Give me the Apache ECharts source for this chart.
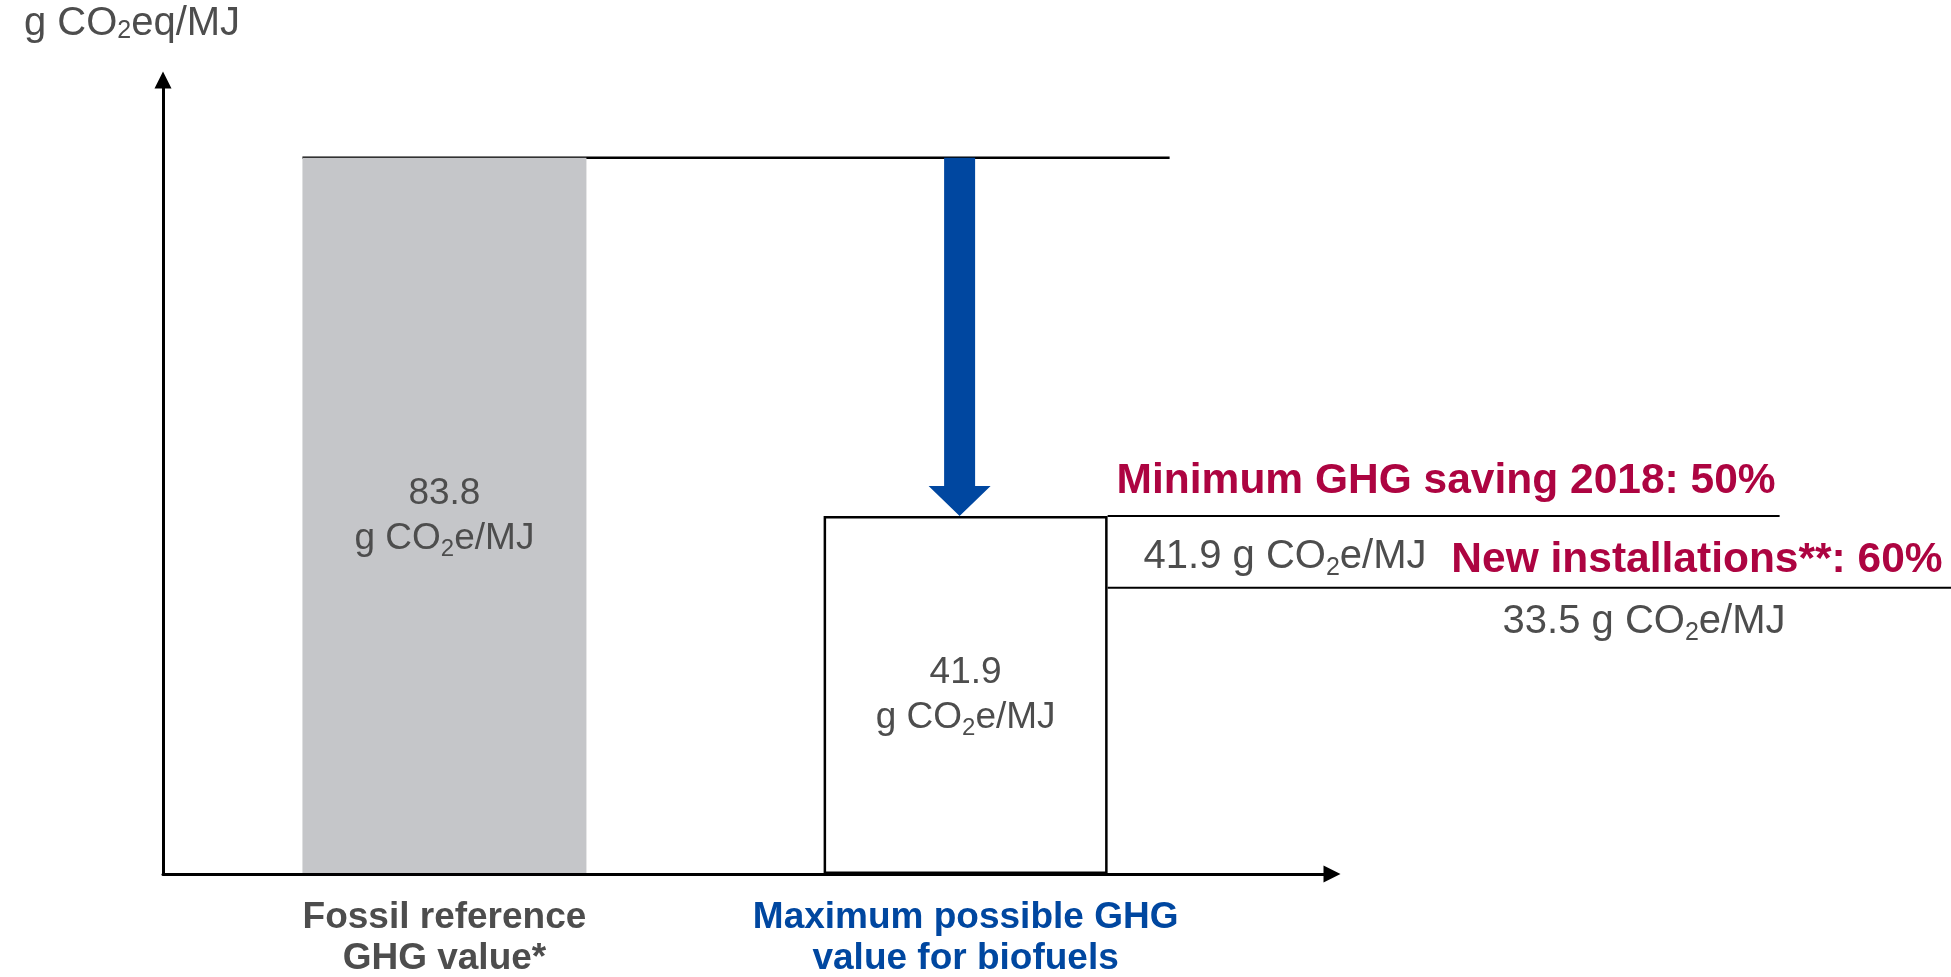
<!DOCTYPE html>
<html>
<head>
<meta charset="utf-8">
<script src="https://cdn.jsdelivr.net/npm/echarts@6/dist/echarts.min.js"></script>
<style>
  html, body { margin: 0; padding: 0; background: #ffffff; }
  #chart { width: 1951px; height: 977px; }
</style>
</head>
<body>
<div id="chart"></div>
<script>
// GHG intensities in g CO2e/MJ
const categories = ['Fossil reference\nGHG value*', 'Maximum possible GHG\nvalue for biofuels'];
const ghgValues = [83.8, 41.9];
// Saving thresholds and the maximum intensity each one allows
const thresholdTitles = ['Minimum GHG saving 2018: 50%', 'New installations**: 60%'];
const thresholdValues = [41.9, 33.5];

const FONT = "'Liberation Sans', Arial, Helvetica, sans-serif";
const TEXT_GREY = '#4d4d4d';
const CRIMSON = '#ad0441';
const BLUE = '#0047a0';
const BAR_WIDTH = 284;

const subRich = (size) => ({
  s: { fontSize: size, lineHeight: size, verticalAlign: 'bottom', color: TEXT_GREY, fill: TEXT_GREY, fontFamily: FONT }
});
const unitText = (v) => (v == null ? '' : v.toFixed(1) + ' ') + 'g CO{s|2}e/MJ';

const chart = echarts.init(document.getElementById('chart'), null, { renderer: 'canvas' });

const axisLineStyle = { color: '#000000', width: 3 };

const option = {
  backgroundColor: '#ffffff',
  animation: false,
  grid: { left: 163, right: 619, top: 80, bottom: 102, containLabel: false },
  xAxis: {
    type: 'value',
    min: -0.54,
    max: 1.703,
    z: 5,
    axisLine: { show: true, symbol: ['none', 'triangle'], symbolSize: [17, 17], lineStyle: axisLineStyle },
    axisTick: { show: false },
    splitLine: { show: false },
    axisLabel: {
      customValues: [0, 1],
      margin: 23,
      formatter: (value) => {
        const i = Math.round(value);
        return categories[i].split('\n').map(line => '{c' + i + '|' + line + '}').join('\n');
      },
      rich: {
        c0: { color: TEXT_GREY, fontWeight: 'bold', fontSize: 37, lineHeight: 41, fontFamily: FONT },
        c1: { color: BLUE, fontWeight: 'bold', fontSize: 37, lineHeight: 41, fontFamily: FONT }
      }
    }
  },
  yAxis: {
    type: 'value',
    min: 0,
    max: 92.9,
    z: 5,
    name: 'g CO{s|2}eq/MJ',
    nameLocation: 'end',
    nameGap: 36,
    nameTextStyle: {
      color: TEXT_GREY, fontSize: 40, fontFamily: FONT,
      padding: [0, 62, 0, 0],
      rich: subRich(25)
    },
    axisLine: { show: true, onZero: false, symbol: ['none', 'triangle'], symbolSize: [17, 17], lineStyle: axisLineStyle },
    axisTick: { show: false },
    axisLabel: { show: false },
    splitLine: { show: false }
  },
  series: [
    {
      name: 'GHG value',
      type: 'bar',
      barWidth: BAR_WIDTH,
      data: ghgValues.map((v, i) => ({
        value: [i, v],
        itemStyle: i === 0
          ? { color: '#c5c6c9' }
          : { color: '#ffffff', borderColor: '#000000', borderWidth: 2.5 }
      })),
      label: {
        show: true,
        position: 'inside',
        color: TEXT_GREY,
        fontSize: 37,
        lineHeight: 45,
        fontFamily: FONT,
        formatter: (p) => p.value[1].toFixed(1) + '\n' + unitText(null),
        rich: subRich(24)
      }
    },
    {
      // fossil reference level and the reduction arrow down to the biofuel maximum
      name: 'Reduction',
      type: 'custom',
      encode: { x: 0, y: [1, 2] },
      data: [[1, ghgValues[0], ghgValues[1]]],
      renderItem: (params, api) => {
        const xi = api.value(0);
        const pFrom = api.coord([xi, api.value(1)]);
        const pTo = api.coord([xi, api.value(2)]);
        const lineLeft = api.coord([0, api.value(1)])[0] - BAR_WIDTH / 2;
        const cx = pTo[0] - 6;
        const shaft = 15.5, head = 31, headLen = 30;
        const yTop = pFrom[1], yTip = pTo[1], yHead = yTip - headLen;
        return {
          type: 'group',
          children: [
            {
              type: 'line',
              shape: { x1: lineLeft, y1: yTop, x2: pTo[0] + 204, y2: yTop },
              style: { stroke: '#000000', lineWidth: 2.5 }
            },
            {
              type: 'polygon',
              shape: {
                points: [
                  [cx - shaft, yTop], [cx + shaft, yTop], [cx + shaft, yHead],
                  [cx + head, yHead], [cx, yTip], [cx - head, yHead], [cx - shaft, yHead]
                ]
              },
              style: { fill: BLUE }
            }
          ]
        };
      }
    },
    {
      // saving thresholds next to the biofuel bar
      name: 'Thresholds',
      type: 'custom',
      encode: { x: 0, y: 1 },
      data: thresholdValues.map(v => [1, v]),
      renderItem: (params, api) => {
        const i = params.dataIndex;
        const layout = [
          { lineEnd: 672, titleX: 9, titleDy: -35, titleAlign: 'left', valueX: 36, valueDy: 41 },
          { lineEnd: 849, titleX: 835, titleDy: -27, titleAlign: 'right', valueX: 395, valueDy: 34 }
        ][i];
        const v = api.value(1);
        const p = api.coord([api.value(0), v]);
        const bx = p[0] + BAR_WIDTH / 2;
        return {
          type: 'group',
          children: [
            {
              type: 'line',
              shape: { x1: bx, y1: p[1], x2: bx + layout.lineEnd, y2: p[1] },
              style: { stroke: '#000000', lineWidth: 2 }
            },
            {
              type: 'text',
              x: bx + layout.titleX,
              y: p[1] + layout.titleDy,
              style: {
                text: thresholdTitles[i], fill: CRIMSON, fontSize: 42.5, fontWeight: 'bold',
                fontFamily: FONT, align: layout.titleAlign, verticalAlign: 'middle'
              }
            },
            {
              type: 'text',
              x: bx + layout.valueX,
              y: p[1] + layout.valueDy,
              style: {
                text: unitText(v), fill: TEXT_GREY, fontSize: 40, lineHeight: 48,
                fontFamily: FONT, align: 'left', verticalAlign: 'middle',
                rich: subRich(25)
              }
            }
          ]
        };
      }
    }
  ]
};

chart.setOption(option);
</script>
</body>
</html>
